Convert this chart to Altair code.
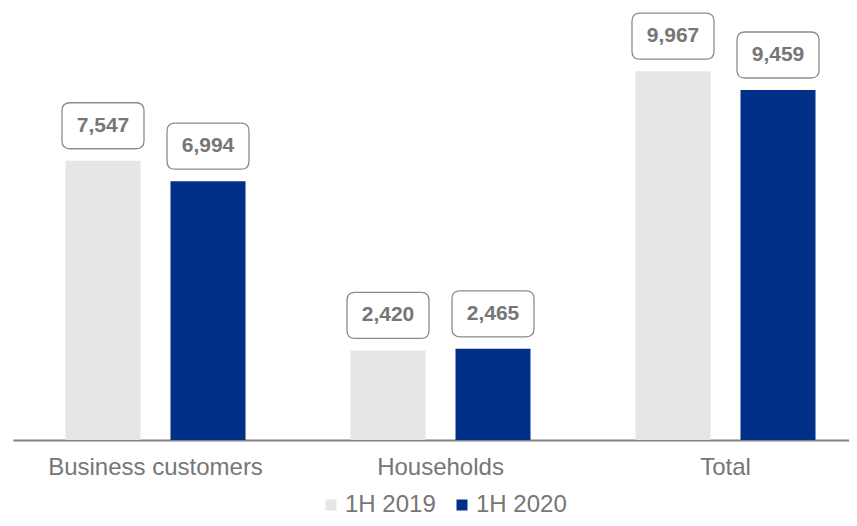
import altair as alt
import pandas as pd

categories = ["Business customers", "Households", "Total"]
series = ["1H 2019", "1H 2020"]
values_2019 = [7547, 2420, 9967]
values_2020 = [6994, 2465, 9459]
colors = ["#e6e6e6", "#003087"]

rows = []
for c, a, b in zip(categories, values_2019, values_2020):
    rows.append({"category": c, "series": series[0], "value": a})
    rows.append({"category": c, "series": series[1], "value": b})
df = pd.DataFrame(rows)

FONT = "Liberation Sans"
GREY = "#767676"

x = alt.X("category:N", sort=categories, title=None,
          scale=alt.Scale(range=[0, 855], paddingInner=0.3684, paddingOuter=0.1842),
          axis=alt.Axis(labelAngle=0, labelFontSize=24, labelFont=FONT, labelColor=GREY,
                        ticks=False, labelPadding=15, domainColor="#808080",
                        domainWidth=2, labelLimit=400))
xo = alt.XOffset("series:N", sort=series,
                 scale=alt.Scale(paddingInner=0.2857, paddingOuter=0))
y = alt.Y("value:Q", axis=None, scale=alt.Scale(domain=[0, 11540], nice=False))

base = alt.Chart(df)

bars = base.mark_bar().encode(
    x=x, xOffset=xo, y=y,
    color=alt.Color("series:N", sort=series,
                    scale=alt.Scale(domain=series, range=colors),
                    legend=alt.Legend(title=None, orient="none", direction="horizontal",
                                      legendX=306, legendY=480,
                                      labelFontSize=24, labelFont=FONT, labelColor=GREY,
                                      symbolType="square", symbolSize=121,
                                      symbolStrokeWidth=0, labelOffset=2,
                                      columnPadding=14)),
)

box_path = ("M -0.805 -0.561 L 0.805 -0.561 Q 1 -0.561 1 -0.366 L 1 0.366 "
            "Q 1 0.561 0.805 0.561 L -0.805 0.561 Q -1 0.561 -1 0.366 "
            "L -1 -0.366 Q -1 -0.561 -0.805 -0.561 Z")

boxes = base.mark_point(shape=box_path, size=6724, filled=True, fill="white",
                        stroke="#8c8c8c", strokeWidth=1.3, opacity=1,
                        yOffset=-35).encode(x=x, xOffset=xo, y=y)

labels = base.mark_text(font=FONT, fontSize=21, fontWeight="bold", color=GREY,
                        baseline="middle", align="center", yOffset=-35).encode(
    x=x, xOffset=xo, y=y, text=alt.Text("value:Q", format=","))

chart = alt.layer(bars, boxes, labels).properties(
    width=836, height=427,
    autosize=alt.AutoSizeParams(type="none"),
    padding={"left": 5, "top": 5, "right": 0, "bottom": 77},
    background="white",
).configure_view(stroke=None)

chart.save("out.html", embed_options={"renderer": "svg", "actions": False})
